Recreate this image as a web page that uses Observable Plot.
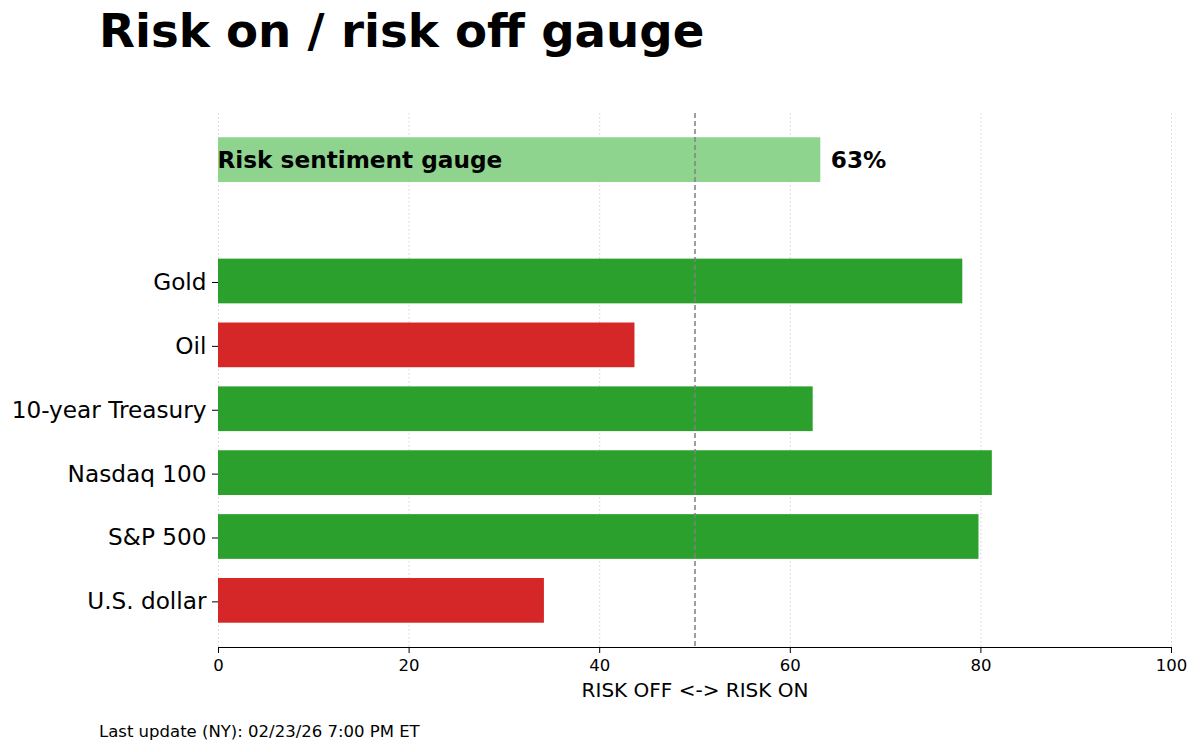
<!DOCTYPE html>
<html>
<head>
<meta charset="utf-8">
<script src="https://cdn.jsdelivr.net/npm/d3@7"></script>
<script src="https://cdn.jsdelivr.net/npm/@observablehq/plot@0.6"></script>
<style>
  html, body { margin: 0; padding: 0; background: #fff; }
  #wrap { position: relative; width: 1200px; height: 752px; font-family: "DejaVu Sans", sans-serif; }
  #title { position: absolute; left: 99px; top: 8px; font-size: 46.7px; font-weight: bold; line-height: 1; color: #000; white-space: nowrap; }
  #footer { position: absolute; left: 99px; top: 724px; font-size: 16.5px; line-height: 1; color: #000; white-space: nowrap; }
  #chart { position: absolute; left: 0; top: 0; }
</style>
</head>
<body>
<div id="wrap">
  <div id="chart"></div>
  <div id="title">Risk on / risk off gauge</div>
  <div id="footer">Last update (NY): 02/23/26 7:00 PM ET</div>
</div>
<script>
// Data
const assets = ["U.S. dollar", "S&P 500", "Nasdaq 100", "10-year Treasury", "Oil", "Gold"];
const scores = [34.2, 79.8, 81.2, 62.4, 43.7, 78.1];
const signal = ["off", "on", "on", "on", "off", "on"];
const gaugeLabel = "Risk sentiment gauge";
const gaugeValue = 63.2;
const gaugeText = "63%";
const xTicks = [0, 20, 40, 60, 80, 100];
const xLabel = "RISK OFF <-> RISK ON";

const colorOf = {on: "#2ca02c", off: "#d62728"};
const rows = assets.map((a, i) => ({asset: a, pos: i, value: scores[i], fill: colorOf[signal[i]]}));
const gaugePos = 6.9;
const gauge = [{label: gaugeLabel, value: gaugeValue, text: gaugeText, pos: gaugePos}];
const half = 0.35;

const chart = Plot.plot({
  width: 1200,
  height: 752,
  marginTop: 113,
  marginBottom: 105,
  marginLeft: 218,
  marginRight: 29,
  style: {fontFamily: "DejaVu Sans, sans-serif", background: "transparent", color: "#000"},
  x: {domain: [0, 100]},
  y: {domain: [-0.73, 7.63]},
  marks: [
    Plot.gridX(xTicks, {stroke: "#b0b0b0", strokeOpacity: 0.7, strokeDasharray: "1.5,2.5", strokeWidth: 0.8}),
    Plot.rect(rows, {x1: d => 0, x2: "value", y1: d => d.pos - half, y2: d => d.pos + half, fill: "fill"}),
    Plot.rect(gauge, {x1: d => 0, x2: "value", y1: d => d.pos - half, y2: d => d.pos + half, fill: "#8ed48e"}),
    Plot.ruleX([50], {stroke: "#808080", strokeDasharray: "5,3", strokeWidth: 1.5}),
    Plot.text(gauge, {x: d => 0, y: "pos", text: "label", textAnchor: "start", dx: -1, fontWeight: "bold", fontSize: 23.2, fill: "#000"}),
    Plot.text(gauge, {x: "value", y: "pos", text: "text", textAnchor: "start", dx: 10, fontWeight: "bold", fontSize: 23.2, fill: "#000"}),
    Plot.ruleY([-0.73], {stroke: "#000", strokeWidth: 1.2}),
    Plot.axisX(xTicks, {fontSize: 16.5, tickSize: 6, tickPadding: 6, label: null, stroke: "#000", fill: "#000"}),
    Plot.axisY(rows.map(d => d.pos), {tickFormat: p => assets[p], fontSize: 23.2, tickSize: 6, tickPadding: 6, dy: 1, label: null, stroke: "#000", fill: "#000"}),
    Plot.text([xLabel], {frameAnchor: "bottom", dy: 49, fontSize: 20, fill: "#000"})
  ]
});
document.getElementById("chart").appendChild(chart);
</script>
</body>
</html>
